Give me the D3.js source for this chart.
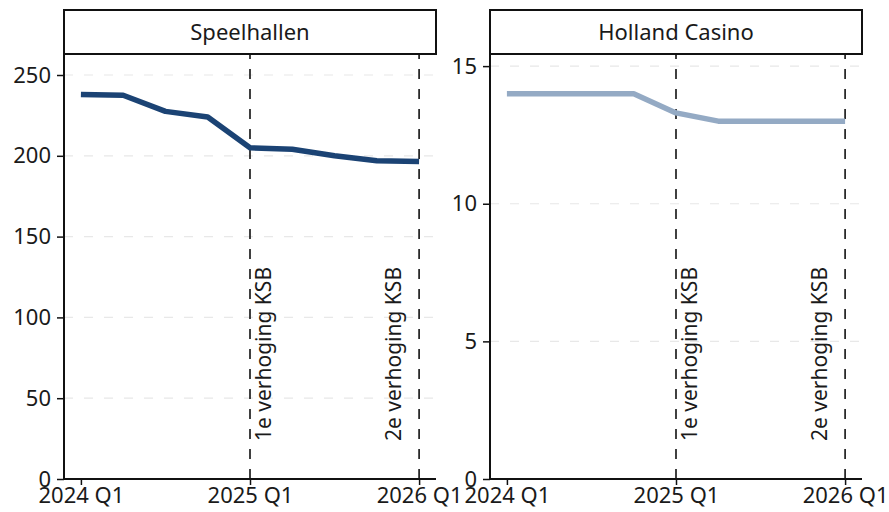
<!DOCTYPE html>
<html>
<head>
<meta charset="utf-8">
<script src="https://cdn.jsdelivr.net/npm/d3@7"></script>
<style>
  body { margin: 0; background: #fff; }
  text { font-family: "Noto Sans", sans-serif; fill: #1a1a1a; }
</style>
</head>
<body>
<div id="chart"></div>
<script>
// data
var quarters = ["2024 Q1", "2024 Q2", "2024 Q3", "2024 Q4", "2025 Q1", "2025 Q2", "2025 Q3", "2025 Q4", "2026 Q1"];
var speelhallen = [238, 237.5, 227.5, 224, 205, 204, 200, 197, 196.5];
var hollandCasino = [14, 14, 14, 14, 13.3, 13, 13, 13, 13];
var xTickLabels = ["2024 Q1", "2025 Q1", "2026 Q1"];
var speelTicks = [0, 50, 100, 150, 200, 250];
var casinoTicks = [0, 5, 10, 15];
var eventQuarters = ["2025 Q1", "2026 Q1"];
var eventLabels = ["1e verhoging KSB", "2e verhoging KSB"];

var width = 889, height = 512;

var svg = d3.select("#chart").append("svg")
    .attr("width", width)
    .attr("height", height);

var panels = [
  { title: "Speelhallen", values: speelhallen, ticks: speelTicks, yMax: 263, color: "#1b4374", left: 64 },
  { title: "Holland Casino", values: hollandCasino, ticks: casinoTicks, yMax: 15.44, color: "#94aac4", left: 490 }
];

var panelW = 372, plotTop = 54, plotBottom = 479, stripTop = 10;

panels.forEach(function(p) {
  var g = svg.append("g");

  var x = d3.scalePoint()
      .domain(quarters)
      .range([p.left, p.left + panelW])
      .padding(0.4);

  var y = d3.scaleLinear()
      .domain([0, p.yMax])
      .range([plotBottom, plotTop]);

  // gridlines
  g.selectAll(".grid")
    .data(p.ticks.filter(function(d) { return d > 0; }))
    .enter().append("line")
      .attr("x1", p.left).attr("x2", p.left + panelW)
      .attr("y1", function(d) { return y(d); })
      .attr("y2", function(d) { return y(d); })
      .attr("stroke", "#e8e8e8")
      .attr("stroke-width", 1.2)
      .attr("stroke-dasharray", "9,11");

  // event lines (drawn bottom up)
  g.selectAll(".event")
    .data(eventQuarters)
    .enter().append("line")
      .attr("x1", function(d) { return x(d); })
      .attr("x2", function(d) { return x(d); })
      .attr("y1", y(0)).attr("y2", y(p.yMax))
      .attr("stroke", "#111")
      .attr("stroke-width", 1.6)
      .attr("stroke-dasharray", "10,10");

  // first label right of its line, last one left of it
  g.selectAll(".evlabel")
    .data(eventQuarters)
    .enter().append("text")
      .attr("transform", function(d, i) {
        var dx = i === 0 ? 21 : -18;
        return "translate(" + (x(d) + dx) + "," + (y(0) - 38) + ") rotate(-90)";
      })
      .attr("font-size", 21)
      .text(function(d, i) { return eventLabels[i]; });

  // series line
  var line = d3.line()
      .x(function(d, i) { return x(quarters[i]); })
      .y(function(d) { return y(d); });

  g.append("path")
    .datum(p.values)
    .attr("d", line)
    .attr("fill", "none")
    .attr("stroke", p.color)
    .attr("stroke-width", 5.5)
    .attr("stroke-linejoin", "round");

  // axes
  var yAxis = d3.axisLeft(y).tickValues(p.ticks).tickSize(7).tickPadding(6);
  var gy = g.append("g").attr("transform", "translate(" + p.left + ",0)").call(yAxis);
  gy.select(".domain").remove();
  gy.selectAll("line").attr("stroke", "#111").attr("stroke-width", 1.5);
  gy.selectAll("text").attr("font-size", 22).attr("fill", "#1a1a1a")
    .style("font-family", "'Noto Sans', sans-serif");

  var xAxis = d3.axisBottom(x).tickValues(xTickLabels).tickSize(6).tickPadding(2);
  var gx = g.append("g").attr("transform", "translate(0," + plotBottom + ")").call(xAxis);
  gx.select(".domain").remove();
  gx.selectAll("line").attr("stroke", "#111").attr("stroke-width", 1.5);
  gx.selectAll("text").attr("font-size", 22).attr("fill", "#1a1a1a")
    .style("font-family", "'Noto Sans', sans-serif");

  g.append("line")
    .attr("x1", p.left).attr("x2", p.left)
    .attr("y1", plotTop).attr("y2", plotBottom + 1)
    .attr("stroke", "#111").attr("stroke-width", 2);
  g.append("line")
    .attr("x1", p.left - 1).attr("x2", p.left + panelW)
    .attr("y1", plotBottom).attr("y2", plotBottom)
    .attr("stroke", "#111").attr("stroke-width", 2);

  // strip
  g.append("rect")
    .attr("x", p.left).attr("y", stripTop)
    .attr("width", panelW).attr("height", plotTop - stripTop)
    .attr("fill", "#fff")
    .attr("stroke", "#111")
    .attr("stroke-width", 2);
  g.append("text")
    .attr("x", p.left + panelW / 2)
    .attr("y", (stripTop + plotTop) / 2)
    .attr("dy", "0.35em")
    .attr("text-anchor", "middle")
    .attr("font-size", 22)
    .text(p.title);
});
</script>
</body>
</html>
